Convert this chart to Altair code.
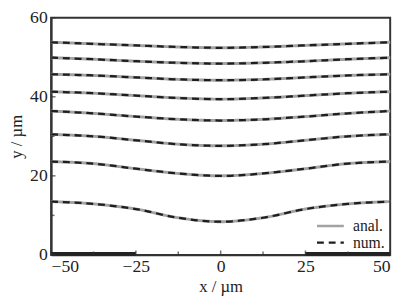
import altair as alt
import pandas as pd

# x positions (µm) at which the curves were read
xs = [-50, -37.5, -25, -12.5, 0, 12.5, 25, 37.5, 50]

# y values (µm) of the eight contour curves, bottom to top
curve1 = [13.5, 12.9, 11.6, 9.4, 8.4, 9.4, 11.6, 12.9, 13.5]
curve2 = [23.6, 23.1, 21.8, 20.6, 20.0, 20.6, 21.8, 23.1, 23.6]
curve3 = [30.5, 30.0, 29.0, 28.0, 27.6, 28.0, 29.0, 30.0, 30.5]
curve4 = [36.4, 35.8, 35.0, 34.3, 34.0, 34.3, 35.0, 35.8, 36.4]
curve5 = [41.3, 40.9, 40.3, 39.7, 39.4, 39.7, 40.3, 40.9, 41.3]
curve6 = [45.7, 45.4, 44.9, 44.4, 44.2, 44.4, 44.9, 45.4, 45.7]
curve7 = [49.9, 49.5, 49.0, 48.6, 48.4, 48.6, 49.0, 49.5, 49.9]
curve8 = [53.8, 53.4, 53.0, 52.6, 52.4, 52.6, 53.0, 53.4, 53.8]
curves = [curve1, curve2, curve3, curve4, curve5, curve6, curve7, curve8]

series_names = ["anal.", "num."]

# electrode segments along the bottom
elec_start = [-50, 25]
elec_end = [-25, 50]

x_major = [-50, -25, 0, 25, 50]
x_minor = [-37.5, -12.5, 12.5, 37.5]
y_major = [0, 20, 40, 60]
y_minor = [10, 30, 50]

rows = []
for s in series_names:
    for i, ys in enumerate(curves):
        for x, y in zip(xs, ys):
            rows.append({"x": x, "y": y, "curve": i, "series": s})
df = pd.DataFrame(rows)

elec = pd.DataFrame({"x": elec_start, "x2": elec_end, "y": [0, 0]})
xt = pd.DataFrame({"x": x_major + x_minor,
                   "kind": ["major"] * len(x_major) + ["minor"] * len(x_minor)})
yt = pd.DataFrame({"y": y_major + y_minor,
                   "kind": ["major"] * len(y_major) + ["minor"] * len(y_minor)})

W, H = 346, 242
FONT = "Liberation Serif"

xscale = alt.Scale(domain=[-50, 50], nice=False, zero=False)
yscale = alt.Scale(domain=[0, 60], nice=False)

xaxis = alt.Axis(values=x_major, title="x / µm", labelPadding=3, titlePadding=3,
                 ticks=False, grid=False, format="d")
yaxis = alt.Axis(values=y_major, title="y / µm", labelPadding=4, titlePadding=4,
                 ticks=False, grid=False, format="d")

legend = alt.Legend(title=None, orient="none", legendX=270, legendY=204,
                    symbolType="stroke", symbolSize=750, symbolStrokeWidth=2.5,
                    clipHeight=17, rowPadding=0, padding=0, labelOffset=8,
                    labelFont=FONT, labelFontSize=16, labelColor="#222")

color = alt.Color("series:N", scale=alt.Scale(domain=series_names,
                                              range=["#a3a3a3", "#1e1e1e"]),
                  legend=legend)
dash = alt.StrokeDash("series:N", scale=alt.Scale(domain=series_names,
                                                  range=[[1, 0], [7, 5]]),
                      legend=legend)

anal = alt.Chart(df).transform_filter(alt.datum.series == "anal.").mark_line(
    strokeWidth=3, interpolate="monotone").encode(
    x=alt.X("x:Q", scale=xscale, axis=xaxis),
    y=alt.Y("y:Q", scale=yscale, axis=yaxis),
    detail="curve:N", color=color, strokeDash=dash)

num = alt.Chart(df).transform_filter(alt.datum.series == "num.").mark_line(
    strokeWidth=2.3, interpolate="monotone").encode(
    x=alt.X("x:Q", scale=xscale),
    y=alt.Y("y:Q", scale=yscale),
    detail="curve:N", color=color, strokeDash=dash)

electrodes = alt.Chart(elec).mark_rule(strokeWidth=4, color="#222", yOffset=-1).encode(
    x=alt.X("x:Q", scale=xscale), x2="x2:Q",
    y=alt.Y("y:Q", scale=yscale))

xticks = alt.Chart(xt).mark_tick(orient="vertical", color="#333", thickness=1.5).encode(
    x=alt.X("x:Q", scale=xscale),
    y=alt.value(H - 2),
    size=alt.Size("kind:N", scale=alt.Scale(domain=["major", "minor"], range=[5, 3]),
                  legend=None))

yticks = alt.Chart(yt).mark_tick(orient="horizontal", color="#333", thickness=1.5).encode(
    y=alt.Y("y:Q", scale=yscale),
    x=alt.value(2),
    size=alt.Size("kind:N", scale=alt.Scale(domain=["major", "minor"], range=[5, 3]),
                  legend=None))

chart = alt.layer(anal, num, electrodes, xticks, yticks).properties(
    width=W, height=H,
    padding={"left": 44, "top": 7, "right": 9, "bottom": 39},
    autosize=alt.AutoSizeParams(type="none"),
).configure_view(stroke="#333", strokeWidth=2).configure_axis(
    domainColor="#333", domainWidth=2,
    labelFont=FONT, labelFontSize=18, labelColor="#222",
    titleFont=FONT, titleFontSize=17, titleFontWeight="normal", titleColor="#222",
)

chart.save("out.html", embed_options={"renderer": "svg", "actions": False})
